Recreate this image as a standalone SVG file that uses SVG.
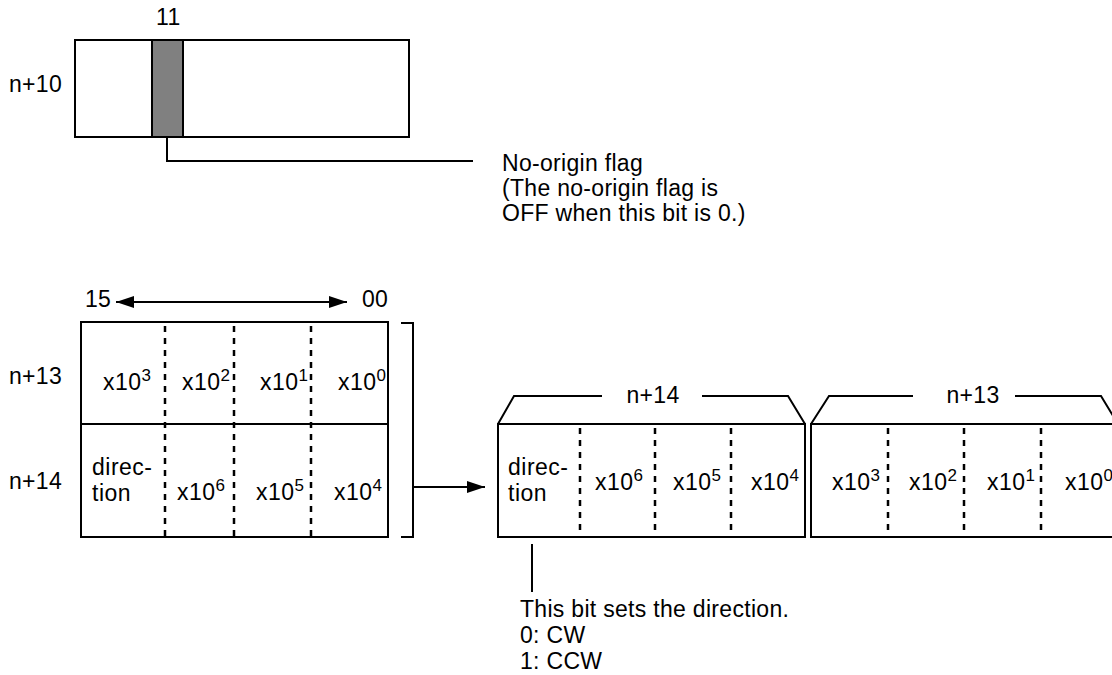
<svg xmlns="http://www.w3.org/2000/svg" width="1112" height="675" viewBox="0 0 1112 675">
<style>
text{font-family:"Liberation Sans",Arial,sans-serif;font-size:23px;letter-spacing:0.3px;fill:#000}
.c{font-size:23px;letter-spacing:0.5px}
.s{font-size:17px;letter-spacing:0}
.ln{fill:none;stroke:#000;stroke-width:2}
.d{fill:none;stroke:#000;stroke-width:2.5;stroke-dasharray:6 6}
.box{fill:#fff;stroke:#000;stroke-width:2}
</style>
<defs>
<marker id="ah" markerUnits="userSpaceOnUse" markerWidth="20" markerHeight="14" refX="18" refY="6" orient="auto-start-reverse">
<path d="M0,0 L18,6 L0,12 Z" fill="#000"/>
</marker>
</defs>

<g id="word-n10">
<text x="156" y="25">11</text>
<text x="9" y="92">n+10</text>
<rect class="box" x="75" y="40" width="334" height="97"/>
<rect x="152" y="40" width="31" height="97" fill="#808080" stroke="#000" stroke-width="2"/>
</g>

<g id="no-origin-label">
<text x="502" y="171">No-origin flag</text>
<text x="502" y="196">(The no-origin flag is</text>
<text x="502" y="221">OFF when this bit is 0.)</text>
</g>

<g id="bit-range">
<text x="85" y="307">15</text>
<text x="362" y="307">00</text>
</g>

<g id="words-n13-n14">
<text x="9" y="384">n+13</text>
<text x="9" y="489">n+14</text>
<rect class="box" x="81" y="322" width="307" height="215"/>
<line class="ln" x1="81" y1="424" x2="388" y2="424"/>
<line class="d" x1="165" y1="326" x2="165" y2="536"/>
<line class="d" x1="234" y1="326" x2="234" y2="536"/>
<line class="d" x1="311" y1="326" x2="311" y2="536"/>
<text class="c" x="103" y="390">x10<tspan class="s" dy="-9">3</tspan></text>
<text class="c" x="182" y="390">x10<tspan class="s" dy="-9">2</tspan></text>
<text class="c" x="260" y="390">x10<tspan class="s" dy="-9">1</tspan></text>
<text class="c" x="338" y="390">x10<tspan class="s" dy="-9">0</tspan></text>
<text class="c" x="92" y="475">direc-</text>
<text class="c" x="92" y="501">tion</text>
<text class="c" x="177" y="500">x10<tspan class="s" dy="-9">6</tspan></text>
<text class="c" x="256" y="500">x10<tspan class="s" dy="-9">5</tspan></text>
<text class="c" x="334" y="500">x10<tspan class="s" dy="-9">4</tspan></text>
</g>

<g id="result-n14">
<rect class="box" x="498" y="424" width="307" height="113"/>
<line class="d" x1="580" y1="428" x2="580" y2="536"/>
<line class="d" x1="655" y1="428" x2="655" y2="536"/>
<line class="d" x1="731" y1="428" x2="731" y2="536"/>
<text x="653" y="403" text-anchor="middle">n+14</text>
<text class="c" x="508" y="475">direc-</text>
<text class="c" x="508" y="501">tion</text>
<text class="c" x="595" y="490">x10<tspan class="s" dy="-9">6</tspan></text>
<text class="c" x="673" y="490">x10<tspan class="s" dy="-9">5</tspan></text>
<text class="c" x="751" y="490">x10<tspan class="s" dy="-9">4</tspan></text>
</g>

<g id="result-n13">
<rect class="box" x="811" y="424" width="310" height="113"/>
<line class="d" x1="888" y1="428" x2="888" y2="536"/>
<line class="d" x1="964" y1="428" x2="964" y2="536"/>
<line class="d" x1="1041" y1="428" x2="1041" y2="536"/>
<text x="973" y="403" text-anchor="middle">n+13</text>
<text class="c" x="832" y="490">x10<tspan class="s" dy="-9">3</tspan></text>
<text class="c" x="909" y="490">x10<tspan class="s" dy="-9">2</tspan></text>
<text class="c" x="987" y="490">x10<tspan class="s" dy="-9">1</tspan></text>
<text class="c" x="1065" y="490">x10<tspan class="s" dy="-9">0</tspan></text>
</g>

<g id="direction-label">
<text x="520" y="617">This bit sets the direction.</text>
<text x="520" y="643">0: CW</text>
<text x="520" y="669">1: CCW</text>
</g>

<g id="connectors">
<path class="ln" d="M167,137 V161 H473"/>
<line class="ln" x1="116" y1="302" x2="347" y2="302" marker-start="url(#ah)" marker-end="url(#ah)"/>
<path class="ln" d="M401,323 H413 V537 H401"/>
<line class="ln" x1="413" y1="487" x2="485" y2="487" marker-end="url(#ah)"/>
<path class="ln" d="M498,424 L514,396 H602 M702,396 H788 L805,424"/>
<path class="ln" d="M811,424 L829,396 H913 M1015,396 H1101 L1118,424"/>
<line class="ln" x1="532" y1="544" x2="532" y2="592"/>
</g>
</svg>
